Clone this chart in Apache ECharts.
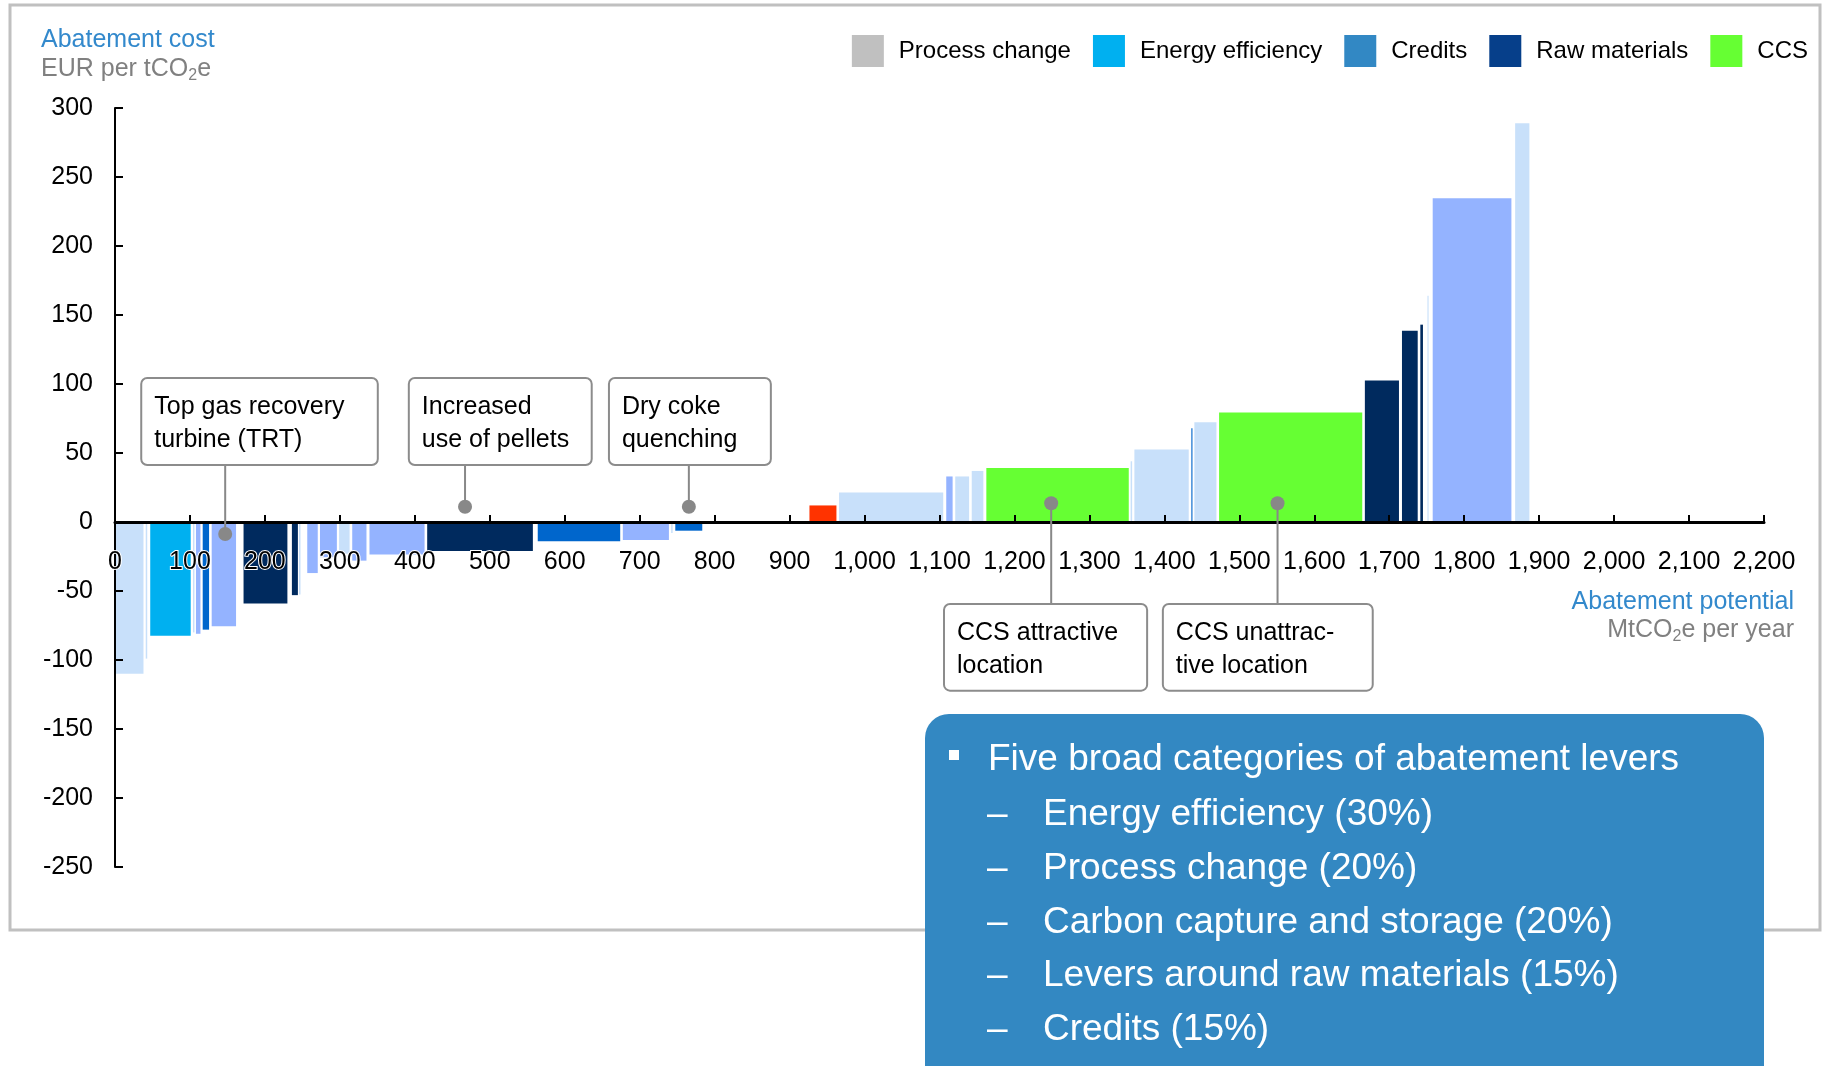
<!DOCTYPE html>
<html>
<head>
<meta charset="utf-8">
<title>Abatement cost curve</title>
<script src="https://cdn.jsdelivr.net/npm/echarts@6/dist/echarts.min.js"></script>
<style>
  html, body { margin: 0; padding: 0; background: #fff; }
  #chart { width: 1827px; height: 1066px; }
</style>
</head>
<body>
<div id="chart"></div>
<script>
// lever blocks, left to right: start / end of abatement potential (MtCO2e), cost (EUR per tCO2e), colour group
const leverStart = [0, 41, 47, 104, 108, 117, 129, 171.5, 236, 245.5, 256.5, 273.5, 299, 316.5, 339.5, 416.5, 564, 677.5, 742, 747.5, 926.5, 966, 1109, 1121, 1143, 1162.5, 1355, 1360, 1436, 1440, 1473, 1667.5, 1717, 1741.5, 1751, 1758, 1868];
const leverEnd = [38, 43, 101, 106, 114, 125.5, 161.5, 230, 244, 247.5, 270.5, 296, 313, 335.5, 413, 557.5, 674, 739, 744, 783.5, 962.5, 1105, 1117.5, 1139.5, 1158.5, 1352.5, 1357, 1432.5, 1437.5, 1469.5, 1664, 1713, 1738, 1745, 1752.5, 1863, 1887];
const leverCost = [-110, -99, -82.5, -80, -81, -78, -75.5, -59, -53, -52.5, -37, -25.5, -23, -28, -23.5, -21, -14, -13, -8, -6.3, 12, 21.3, 33, 33, 37, 39.2, 44, 52.5, 68, 72.3, 79.3, 102.6, 138.6, 143, 164, 234.6, 289];
const leverGroup = ['pale', 'pale', 'cyan', 'pale', 'peri', 'blue', 'peri', 'navy', 'navy', 'pale', 'peri', 'peri', 'pale', 'peri', 'peri', 'navy', 'blue', 'peri', 'pale', 'blue', 'red', 'pale', 'peri', 'pale', 'pale', 'green', 'pale', 'pale', 'blue', 'pale', 'green', 'navy', 'navy', 'navy', 'pale', 'peri', 'pale'];

// legend categories
const legendNames = ['Process change', 'Energy efficiency', 'Credits', 'Raw materials', 'CCS'];

// callouts: text and the lever point they mark
const calloutText = [
  ['Top gas recovery', 'turbine (TRT)'],
  ['Increased', 'use of pellets'],
  ['Dry coke', 'quenching'],
  ['CCS attractive', 'location'],
  ['CCS unattrac-', 'tive location']
];
const calloutAt = [147, 467, 765.6, 1249, 1551];
const calloutCost = [-8.7, 11, 11, 13.6, 13.6];

// summary box
const summaryHead = 'Five broad categories of abatement levers';
const summaryItems = ['Energy efficiency (30%)', 'Process change (20%)', 'Carbon capture and storage (20%)', 'Levers around raw materials (15%)', 'Credits (15%)'];

// axis ranges
const xMin = 0, xMax = 2200, xStep = 100;
const yMin = -250, yMax = 300, yStep = 50;

// ---- styling / layout ----
const FONT = '"Liberation Sans", Arial, Helvetica, sans-serif';
const groupColor = {
  pale: '#c8e0fa', peri: '#94b3ff', navy: '#002a5e', blue: '#0066cc',
  cyan: '#00b0f0', red: '#ff3300', green: '#66ff33'
};
const legendColor = ['#c0c0c0', '#00b0f0', '#3288c4', '#063f8a', '#66ff33'];
// callout boxes in data units: [x left, x right, y top, y bottom]
const calloutBox = [
  [35, 350.6, 104.3, 41.3],
  [392, 636, 104.3, 41.3],
  [659, 875, 104.3, 41.3],
  [1106, 1377, -59.4, -122.2],
  [1398, 1678, -59.4, -122.2]
];
const GRID = { left: 115, right: 63, top: 108, bottom: 199 };
const CHART_H = 1066;
// put the x axis on the zero line, measured from the grid bottom
const plotH = CHART_H - GRID.top - GRID.bottom;
const xAxisOffset = -((0 - yMin) / (yMax - yMin)) * plotH;

const chart = echarts.init(document.getElementById('chart'));

const leverData = leverStart.map((s, i) => [s, leverEnd[i], leverCost[i]]);
const calloutData = calloutAt.map((x, i) => [x, calloutCost[i]]);

function renderLever(params, api) {
  const p0 = api.coord([api.value(0), api.value(2)]);
  const p1 = api.coord([api.value(1), 0]);
  return {
    type: 'rect',
    shape: {
      x: Math.min(p0[0], p1[0]),
      y: Math.min(p0[1], p1[1]),
      width: Math.abs(p1[0] - p0[0]),
      height: Math.abs(p1[1] - p0[1])
    },
    style: { fill: groupColor[leverGroup[params.dataIndex]] }
  };
}

function renderCallout(params, api) {
  const i = params.dataIndex;
  const p = api.coord([api.value(0), api.value(1)]);
  const b = calloutBox[i];
  const tl = api.coord([b[0], b[2]]);
  const br = api.coord([b[1], b[3]]);
  const edgeY = tl[1] > p[1] ? tl[1] : br[1];
  const txt = (s, dy) => ({
    type: 'text', x: tl[0] + 13, y: tl[1] + dy,
    style: { text: s, fill: '#000', font: '25px ' + FONT, verticalAlign: 'middle' }
  });
  return {
    type: 'group',
    children: [
      { type: 'line', shape: { x1: p[0], y1: p[1], x2: p[0], y2: edgeY }, style: { stroke: '#888', lineWidth: 2 } },
      { type: 'circle', shape: { cx: p[0], cy: p[1], r: 7 }, style: { fill: '#888' } },
      { type: 'rect', shape: { x: tl[0], y: tl[1], width: br[0] - tl[0], height: br[1] - tl[1], r: 6 },
        style: { fill: '#fff', stroke: '#8c8c8c', lineWidth: 2 } },
      txt(calloutText[i][0], 29),
      txt(calloutText[i][1], 62)
    ]
  };
}

const legendSeries = legendNames.map((n, i) => ({
  name: n, type: 'custom', data: [], renderItem: () => null,
  itemStyle: { color: legendColor[i] }
}));

const summaryGraphics = [
  { type: 'rect', shape: { x: 925, y: 714, width: 839, height: 420, r: 24 }, style: { fill: '#3388c2' }, z: 50 },
  { type: 'rect', shape: { x: 949, y: 750, width: 10, height: 10 }, style: { fill: '#fff' }, z: 51 },
  { type: 'text', x: 988, y: 760, z: 51, style: { text: summaryHead, fill: '#fff', font: '37px ' + FONT, verticalAlign: 'middle' } }
];
summaryItems.forEach((s, i) => {
  const y = 815 + i * 53.7;
  summaryGraphics.push(
    { type: 'text', x: 987, y: y, z: 51, style: { text: '\u2013', fill: '#fff', font: '37px ' + FONT, verticalAlign: 'middle' } },
    { type: 'text', x: 1043, y: y, z: 51, style: { text: s, fill: '#fff', font: '37px ' + FONT, verticalAlign: 'middle' } }
  );
});

const subRich = (color) => ({
  b: { fontSize: 25, lineHeight: 30, fill: color, fontFamily: FONT },
  s: { fontSize: 16, lineHeight: 16, verticalAlign: 'bottom', fill: color, fontFamily: FONT }
});

chart.setOption({
  animation: false,
  backgroundColor: '#fff',
  textStyle: { fontFamily: FONT },
  grid: { left: GRID.left, right: GRID.right, top: GRID.top, bottom: GRID.bottom, outerBoundsMode: 'none' },
  legend: {
    data: legendNames, top: 30, right: 14, icon: 'rect',
    itemWidth: 32, itemHeight: 32, itemGap: 22,
    textStyle: { fontSize: 24, color: '#000', fontFamily: FONT, padding: [0, 0, 0, 10] }
  },
  xAxis: {
    type: 'value', min: xMin, max: xMax, interval: xStep, z: 10,
    position: 'bottom', offset: xAxisOffset,
    splitLine: { show: false },
    axisLine: { onZero: false, lineStyle: { color: '#000', width: 3 } },
    axisTick: { show: true, inside: true, length: 7, lineStyle: { color: '#000', width: 2 } },
    axisLabel: {
      fontSize: 25, color: '#000', margin: 28, fontFamily: FONT,
      textBorderColor: '#fff', textBorderWidth: 2,
      formatter: v => v.toLocaleString('en-US')
    }
  },
  yAxis: {
    type: 'value', min: yMin, max: yMax, interval: yStep, z: 10,
    splitLine: { show: false },
    axisLine: { show: true, onZero: false, lineStyle: { color: '#000', width: 2 } },
    axisTick: { show: true, inside: true, length: 8, lineStyle: { color: '#000', width: 2 } },
    axisLabel: { fontSize: 25, color: '#000', margin: 22, fontFamily: FONT }
  },
  graphic: [
    { type: 'rect', shape: { x: 10, y: 5, width: 1810, height: 925 }, style: { fill: 'none', stroke: '#c0c0c0', lineWidth: 3 }, z: 0 },
    { type: 'text', x: 41, y: 40, style: { text: 'Abatement cost', fill: '#3389cc', font: '25px ' + FONT, verticalAlign: 'middle' } },
    { type: 'text', x: 41, y: 54, style: { text: '{b|EUR per tCO}{s|2}{b|e}', rich: subRich('#808080') } },
    { type: 'text', x: 1794, y: 602, style: { text: 'Abatement potential', fill: '#3389cc', font: '25px ' + FONT, align: 'right', verticalAlign: 'middle' } },
    { type: 'text', x: 1794, y: 615, style: { text: '{b|MtCO}{s|2}{b|e per year}', align: 'right', rich: subRich('#808080') } }
  ].concat(summaryGraphics),
  series: [
    {
      name: 'levers', type: 'custom', z: 2,
      encode: { x: [0, 1], y: 2 },
      data: leverData,
      renderItem: renderLever
    },
    {
      name: 'callouts', type: 'custom', z: 20,
      encode: { x: 0, y: 1 },
      data: calloutData,
      renderItem: renderCallout
    }
  ].concat(legendSeries)
});
</script>
</body>
</html>
